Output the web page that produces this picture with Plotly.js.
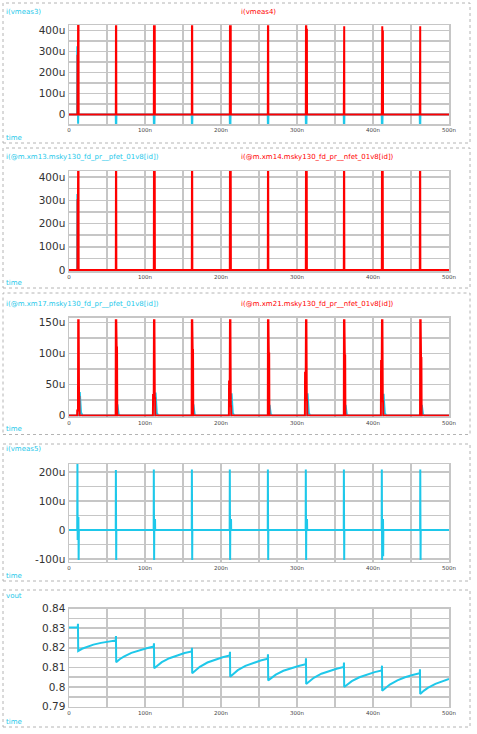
<!DOCTYPE html>
<html>
<head>
<meta charset="utf-8">
<script src="https://cdn.plot.ly/plotly-3.0.1.min.js"></script>
<style>html,body{margin:0;padding:0;background:#fff;}#chart{width:477px;height:734px;}</style>
</head>
<body>
<div id="chart"></div>
<script>
// ---------- DATA (time in ns, currents in uA, voltage in V) ----------
// Panel 1
const t_vmeas3 = [0,10.7,10.9,11.2,12.0,12.2, 61.5,61.7,62.2,62.4, 111.5,111.7,112.4,112.6, 161.5,161.7,162.2,162.4, 211.5,211.7,212.4,212.6, 261.5,261.7,262.2,262.4, 311.5,311.7,312.4,312.6, 361.5,361.7,362.2,362.4, 411.5,411.7,412.4,412.6, 461.5,461.7,462.2,462.4, 500];
const i_vmeas3 = [0,0,325,-44,-44,0, 0,-44,-44,0, 0,-44,-44,0, 0,-44,-44,0, 0,-44,-44,0, 0,-44,-44,0, 0,-44,-44,0, 0,-44,-44,0, 0,-44,-44,0, 0,-44,-44,0, 0];
const t_vmeas4 = [0,11.1,11.3,11.8,12.0,12.5,12.7, 61.6,61.8,62.1,62.3, 111.6,111.8,112.8,113.0, 161.6,161.8,162.1,162.3, 211.6,211.8,212.8,213.0, 261.6,261.8,262.1,262.3, 311.6,311.8,312.2,312.6,313.0,313.2, 361.6,361.8,362.1,362.3, 411.6,411.8,412.2,412.6,413.0,413.2, 461.6,461.8,462.1,462.3, 500];
const i_vmeas4 = [0,0,280,280,440,440,0, 0,420,420,0, 0,420,420,0, 0,420,420,0, 0,420,420,0, 0,420,420,0, 0,420,420,200,408,0, 0,420,420,0, 0,420,420,200,400,0, 0,420,420,0, 0];

// Panel 2
const t_xm13 = [0,10.8,11.0,11.3,500];
const i_xm13 = [0,0,327,0,0];
const t_xm14 = [0,11.1,11.3,11.8,12.0,12.5,12.7, 61.6,61.8,62.1,62.3, 111.6,111.8,112.8,113.0, 161.6,161.8,162.1,162.3, 211.6,211.8,212.8,213.0, 261.6,261.8,262.1,262.3, 311.6,311.8,312.8,313.0, 361.6,361.8,362.1,362.3, 411.6,411.8,412.8,413.0, 461.6,461.8,462.1,462.3, 500];
const i_xm14 = [0,0,300,300,440,440,0, 0,440,440,0, 0,440,440,0, 0,440,440,0, 0,440,440,0, 0,440,440,0, 0,440,440,0, 0,440,440,0, 0,440,440,0, 0,440,440,0, 0];

// Panel 3
const t_xm17 = [0, 13.8,14.2,14.8,15.8,17.8, 63.3,63.7,64.3,65.3,67.3, 113.5,113.9,114.5,115.5,117.5, 163.3,163.7,164.3,165.3,167.3, 213.5,213.9,214.5,215.5,217.5, 263.5,263.9,264.5,265.5,267.5, 313.5,313.9,314.5,315.5,317.5, 363.5,363.9,364.5,365.5,367.5, 413.5,413.9,414.5,415.5,417.5, 463.8,464.2,464.8,465.8,467.8, 500];
const i_xm17 = [0, 0,38,13,5,0, 0,18,7,2,0, 0,37,13,4,0, 0,18,7,2,0, 0,36,13,4,0, 0,17,6,2,0, 0,36,13,4,0, 0,17,6,2,0, 0,35,12,4,0, 0,17,6,2,0, 0];
const t_xm21 = [0, 10.7,10.9,11.8,12.1,12.7,13.2,13.6,13.9, 61.4,61.6,62.2,62.7,63.2,63.5, 110.4,110.6,111.5,111.8,112.4,112.9,113.3,113.6, 161.4,161.6,162.2,162.7,163.2,163.5, 210.4,210.6,211.5,211.8,212.4,212.9,213.3,213.6, 261.6,261.8,262.4,262.9,263.4,263.7, 310.4,310.6,311.5,311.8,312.4,312.9,313.3,313.6, 361.6,361.8,362.4,362.9,363.4,363.7, 410.4,410.6,411.5,411.8,412.4,412.9,413.3,413.6, 461.9,462.1,462.7,463.2,463.7,464.0, 500];
const i_xm21 = [0, 0,8,8,154,154,30,30,0, 0,154,154,110,110,0, 0,33,33,154,154,28,28,0, 0,154,154,106,106,0, 0,55,55,154,154,15,15,0, 0,154,154,100,100,0, 0,69,69,154,154,25,25,0, 0,154,154,97,97,0, 0,88,88,154,154,23,23,0, 0,154,154,93,93,0, 0];

// Panel 4
const t_vmeas5 = [0, 10.8,11.1,11.4,12.4,12.7,13.0, 61.5,61.7,62.1,62.3, 111.4,111.6,112.0,112.2,113.0,113.2,113.4, 161.5,161.7,162.1,162.3, 211.4,211.6,212.0,212.2,213.0,213.2,213.4, 261.5,261.7,262.1,262.3, 311.4,311.6,312.0,312.2,313.0,313.2,313.4, 361.5,361.7,362.1,362.3, 411.4,411.6,412.0,412.2,413.0,413.2,413.4,413.6, 462.0,462.2,462.6,462.8, 500];
const i_vmeas5 = [0, 0,227,-34,45,-103,0, 0,206,-103,0, 0,208,-103,0,0,38,0, 0,208,-103,0, 0,208,-103,0,0,38,0, 0,208,-103,0, 0,208,-103,0,0,38,0, 0,208,-103,0, 0,208,-103,0,0,38,-90,0, 0,208,-103,0, 0];

// Panel 5
const t_vout = [0,11.5,11.8,12.1, 17.1,22.1,32.1,42.1,52.1,61.5,61.8,62.1, 67.1,72.1,82.1,92.1,102.1,111.5,111.8,112.1, 117.1,122.1,132.1,142.1,152.1,161.5,161.8,162.1, 167.1,172.1,182.1,192.1,202.1,211.5,211.8,212.1, 217.1,222.1,232.1,242.1,252.1,261.5,261.8,262.1, 267.1,272.1,282.1,292.1,302.1,311.5,311.8,312.1, 317.1,322.1,332.1,342.1,352.1,361.5,361.8,362.1, 367.1,372.1,382.1,392.1,402.1,411.5,411.8,412.1, 417.1,422.1,432.1,442.1,452.1,461.5,461.8,462.1, 467.1,472.1,482.1,492.1,500];
const v_vout = [0.8303,0.8303,0.8322,0.8184, 0.8195,0.8203,0.8216,0.8225,0.8232,0.8237,0.8260,0.8127, 0.8143,0.8155,0.8174,0.8188,0.8198,0.8206,0.8223,0.8096, 0.8113,0.8127,0.8147,0.8161,0.8173,0.8181,0.8200,0.8070, 0.8088,0.8103,0.8125,0.8140,0.8152,0.8161,0.8180,0.8053, 0.8071,0.8086,0.8108,0.8123,0.8135,0.8144,0.8167,0.8034, 0.8050,0.8063,0.8083,0.8096,0.8107,0.8116,0.8147,0.8016, 0.8033,0.8047,0.8068,0.8082,0.8093,0.8102,0.8125,0.8000, 0.8017,0.8030,0.8050,0.8065,0.8076,0.8084,0.8109,0.7981, 0.7999,0.8013,0.8034,0.8050,0.8061,0.8070,0.8090,0.7965, 0.7982,0.7996,0.8016,0.8030,0.8041];

// Tick labels
const xTickVals = [0,50,100,150,200,250,300,350,400,450,500];
const xTickText = ['0','','100n','','200n','','300n','','400n','','500n'];
const y1TickVals = [0,50,100,150,200,250,300,350,400];
const y1TickText = ['0','','100u','','200u','','300u','','400u'];
const y3TickVals = [0,25,50,75,100,125,150];
const y3TickText = ['0','','50u','','100u','','150u'];
const y4TickVals = [-100,-50,0,50,100,150,200];
const y4TickText = ['-100u','','0','','100u','','200u'];
const y5TickVals = [0.79,0.795,0.80,0.805,0.81,0.815,0.82,0.825,0.83,0.835,0.84];
const y5TickText = ['0.79','','0.8','','0.81','','0.82','','0.83','','0.84'];

// ---------- STYLE ----------
const CYAN = '#1ec8ea', RED = '#ff0000', GRID = '#c6c6c6';
const W = 477, H = 734;
const px = v => v / W;
const py = v => 1 - v / H;

function xa(anchor) {
  return {domain:[px(69), px(449)], range:[0,500], anchor:anchor,
    tickmode:'array', tickvals:xTickVals, ticktext:xTickText,
    showgrid:true, gridcolor:GRID, gridwidth:1.5, zeroline:false,
    showline:true, mirror:true, linecolor:GRID, linewidth:1.5,
    ticks:'', tickfont:{family:'DejaVu Sans', size:5.5, color:'#444'}, fixedrange:true};
}
function ya(anchor, top, bottom, range, tv, tt) {
  return {domain:[py(bottom), py(top)], range:range, anchor:anchor,
    tickmode:'array', tickvals:tv, ticktext:tt,
    showgrid:true, gridcolor:GRID, gridwidth:1.5, zeroline:false,
    showline:true, mirror:true, linecolor:GRID, linewidth:1.5,
    ticks:'', tickfont:{family:'DejaVu Sans', size:10.5, color:'#333'}, fixedrange:true};
}
function tr(x, y, c, xa_, ya_) {
  return {x:x, y:y, type:'scatter', mode:'lines', line:{color:c, width:2}, xaxis:xa_, yaxis:ya_, hoverinfo:'skip'};
}

const data = [
  tr(t_vmeas3, i_vmeas3, CYAN, 'x', 'y'),
  tr(t_vmeas4, i_vmeas4, RED, 'x', 'y'),
  tr(t_xm13, i_xm13, CYAN, 'x2', 'y2'),
  tr(t_xm14, i_xm14, RED, 'x2', 'y2'),
  tr(t_xm17, i_xm17, CYAN, 'x3', 'y3'),
  tr(t_xm21, i_xm21, RED, 'x3', 'y3'),
  tr(t_vmeas5, i_vmeas5, CYAN, 'x4', 'y4'),
  tr(t_vout, v_vout, CYAN, 'x5', 'y5')
];

function lbl(text, x, y, color) {
  return {text:text, x:px(x), y:py(y), xref:'paper', yref:'paper', xanchor:'left', yanchor:'middle',
    showarrow:false, font:{family:'DejaVu Sans', size:7, color:color}};
}
function box(top, bottom) {
  return {type:'rect', xref:'paper', yref:'paper', x0:px(3), x1:px(470), y0:py(bottom), y1:py(top),
    line:{color:'#b4b4b4', width:1, dash:'dot'}, fillcolor:'rgba(0,0,0,0)'};
}

const layout = {
  width:W, height:H, margin:{l:0,r:0,t:0,b:0}, showlegend:false,
  paper_bgcolor:'#ffffff', plot_bgcolor:'#ffffff',
  xaxis:xa('y'), yaxis:ya('x', 25, 124, [-45,426], y1TickVals, y1TickText),
  xaxis2:xa('y2'), yaxis2:ya('x2', 171, 271, [-4,426], y1TickVals, y1TickText),
  xaxis3:xa('y3'), yaxis3:ya('x3', 317.7, 416.5, [-1.6,158], y3TickVals, y3TickText),
  xaxis4:xa('y4'), yaxis4:ya('x4', 464, 561.7, [-109,227], y4TickVals, y4TickText),
  xaxis5:xa('y5'), yaxis5:ya('x5', 608.5, 706.7, [0.79,0.84], y5TickVals, y5TickText),
  shapes:[box(3,143), box(148,288), box(293,434.5), box(444,581), box(590,727)],
  annotations:[
    lbl('i(vmeas3)', 4, 12, CYAN), lbl('i(vmeas4)', 239, 12, RED), lbl('time', 4, 138, CYAN),
    lbl('i(@m.xm13.msky130_fd_pr__pfet_01v8[id])', 4, 157, CYAN), lbl('i(@m.xm14.msky130_fd_pr__nfet_01v8[id])', 239, 157, RED), lbl('time', 4, 283, CYAN),
    lbl('i(@m.xm17.msky130_fd_pr__pfet_01v8[id])', 4, 304, CYAN), lbl('i(@m.xm21.msky130_fd_pr__nfet_01v8[id])', 239, 304, RED), lbl('time', 4, 429, CYAN),
    lbl('i(vmeas5)', 4, 449, CYAN), lbl('time', 4, 576, CYAN),
    lbl('vout', 4, 596, CYAN), lbl('time', 4, 722, CYAN)
  ]
};

Plotly.newPlot('chart', data, layout, {displayModeBar:false, staticPlot:true});
</script>
</body>
</html>
